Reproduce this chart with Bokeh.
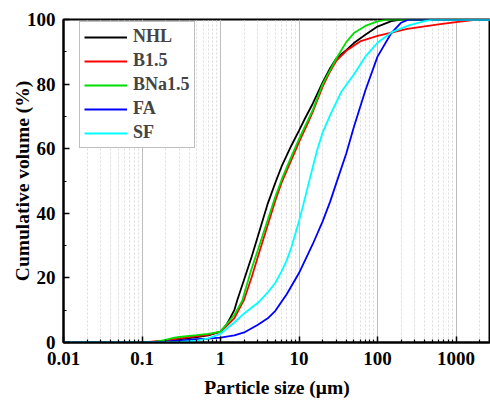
from bokeh.plotting import figure
from bokeh.models import (FixedTicker, Legend, LegendItem, Range1d, CustomJSTickFormatter)
from bokeh.embed import file_html
from bokeh.resources import INLINE

# ---- data ----
nhl_d = [0.01, 0.1, 0.2, 0.3, 0.5, 0.7, 1, 1.2, 1.5, 1.63, 2, 2.5, 3, 4, 5, 6, 7, 8, 10, 12, 15, 20, 25, 30, 40, 50, 70, 100, 150, 200, 3000]
nhl_v = [0, 0, 0.4, 1.0, 1.7, 2.2, 3.4, 5.6, 10, 13, 19.5, 26.6, 33, 43, 49.5, 54.5, 58, 61, 65.6, 69.5, 74, 80.5, 85, 88, 90.5, 92.7, 95.3, 97.8, 99.5, 100, 100]

b15_d = [0.01, 0.1, 0.2, 0.3, 0.5, 0.7, 1, 1.5, 2, 2.5, 3, 4, 5, 6, 7, 8, 10, 13, 15, 20, 25, 30, 40, 60, 100, 240, 630, 1000, 1860, 3000]
b15_v = [0, 0, 0.6, 1.3, 2.0, 2.4, 3.3, 7.5, 13.3, 20.3, 26.6, 36.4, 44, 49.5, 53.3, 56.5, 62, 68, 71.5, 79.2, 84, 87.3, 90.3, 93.2, 94.9, 97.1, 98.6, 99.2, 100, 100]

bna_d = [0.01, 0.1, 0.15, 0.2, 0.25, 0.3, 0.5, 0.7, 1, 1.5, 1.9, 2, 2.5, 3, 4, 5, 6, 8, 10, 15, 20, 25, 30, 40, 50, 70, 100, 130, 3000]
bna_v = [0, 0, 0.3, 0.8, 1.4, 1.7, 2.3, 2.7, 3.4, 8.5, 13, 15, 23, 28.7, 38, 45.2, 50.4, 57.6, 63, 72, 80, 84.4, 88, 93, 95.8, 98, 99.4, 100, 100]

fa_d = [0.01, 0.1, 0.2, 0.3, 0.5, 0.7, 1, 1.5, 2, 3, 4, 5, 7, 10, 15, 20, 25, 30, 40, 50, 70, 100, 150, 200, 250, 3000]
fa_v = [0, 0, 0.3, 0.6, 1.0, 1.2, 1.5, 2.2, 3.1, 5.5, 7.5, 9.8, 15, 21.5, 30.5, 37.5, 43.7, 49.5, 58.5, 66.7, 78, 88.5, 95.8, 99, 100, 100]

sf_d = [0.01, 0.1, 0.2, 0.3, 0.5, 0.7, 1, 1.5, 2, 3, 4, 5, 6, 7, 8, 10, 12, 14, 17, 20, 25, 35, 50, 70, 100, 150, 250, 400, 500, 3000]
sf_v = [0, 0, 0.1, 0.2, 0.6, 1.3, 2.7, 6.2, 9.0, 12.3, 15.5, 18.5, 22, 25.5, 29.5, 37.5, 45, 51.5, 59.5, 65, 70.5, 77.8, 83, 88.5, 92.8, 96, 98.2, 99.5, 100, 100]

series_names = ["NHL", "B1.5", "BNa1.5", "FA", "SF"]
series_colors = ["#000000", "#ff0000", "#00dd00", "#0000ff", "#00ffff"]
series_data = [(nhl_d, nhl_v), (b15_d, b15_v), (bna_d, bna_v), (fa_d, fa_v), (sf_d, sf_v)]

x_ticks = [0.01, 0.1, 1, 10, 100, 1000]
x_minor = [k * 10.0 ** e for e in range(-2, 4) for k in range(2, 10)]
y_ticks = [0, 20, 40, 60, 80, 100]
y_minor = [10, 30, 50, 70, 90]

FONT = "Liberation Serif"

p = figure(width=490, height=400, x_axis_type="log",
           x_range=Range1d(0.01, 2750), y_range=Range1d(0, 100),
           output_backend="svg", toolbar_location=None,
           min_border_left=63, min_border_right=0, min_border_top=19, min_border_bottom=58)

items = []
for name, color, (d, v) in zip(series_names, series_colors, series_data):
    r = p.line(d, v, line_color=color, line_width=1.8)
    items.append(LegendItem(label=name, renderers=[r]))

p.xaxis.ticker = FixedTicker(ticks=x_ticks, minor_ticks=x_minor)
p.xaxis.formatter = CustomJSTickFormatter(code="return tick.toString();")
p.yaxis.ticker = FixedTicker(ticks=y_ticks, minor_ticks=y_minor)

for ax in (p.xaxis[0], p.yaxis[0]):
    ax.axis_line_width = 2
    ax.axis_line_color = "black"
    ax.major_tick_in = 6
    ax.major_tick_out = 0
    ax.minor_tick_in = 3
    ax.minor_tick_out = 0
    ax.major_tick_line_width = 1.5
    ax.minor_tick_line_width = 1.2
    ax.major_label_text_font = FONT
    ax.major_label_text_font_style = "bold"
    ax.major_label_text_font_size = "19px"
    ax.major_label_text_color = "black"
    ax.axis_label_text_font = FONT
    ax.axis_label_text_font_style = "bold"
    ax.axis_label_text_font_size = "19.5px"
    ax.axis_label_text_color = "black"

p.xaxis.axis_label = "Particle size (μm)"
p.yaxis.axis_label = "Cumulative volume (%)"
p.xaxis.major_label_standoff = 9
p.xaxis.axis_label_standoff = 9
p.yaxis.major_label_standoff = 8
p.yaxis.axis_label_standoff = -9

p.xgrid.grid_line_color = "#bdbdbd"
p.xgrid.grid_line_width = 1
p.xgrid.minor_grid_line_color = "#dcdcdc"
p.xgrid.minor_grid_line_dash = "2 2"
p.ygrid.visible = False

p.outline_line_color = "black"
p.outline_line_width = 2
p.outline_line_alpha = 1

legend = Legend(items=items, location=(16, 194))
legend.label_text_font = FONT
legend.label_text_font_style = "bold"
legend.label_text_font_size = "18px"
legend.glyph_width = 43
legend.glyph_height = 20
legend.label_height = 20
legend.label_standoff = 6
legend.spacing = 3
legend.padding = 4
legend.margin = 0
legend.border_line_color = "#808080"
legend.border_line_width = 1
legend.background_fill_alpha = 1
p.add_layout(legend)

open("out.html", "w").write(file_html(p, INLINE))
